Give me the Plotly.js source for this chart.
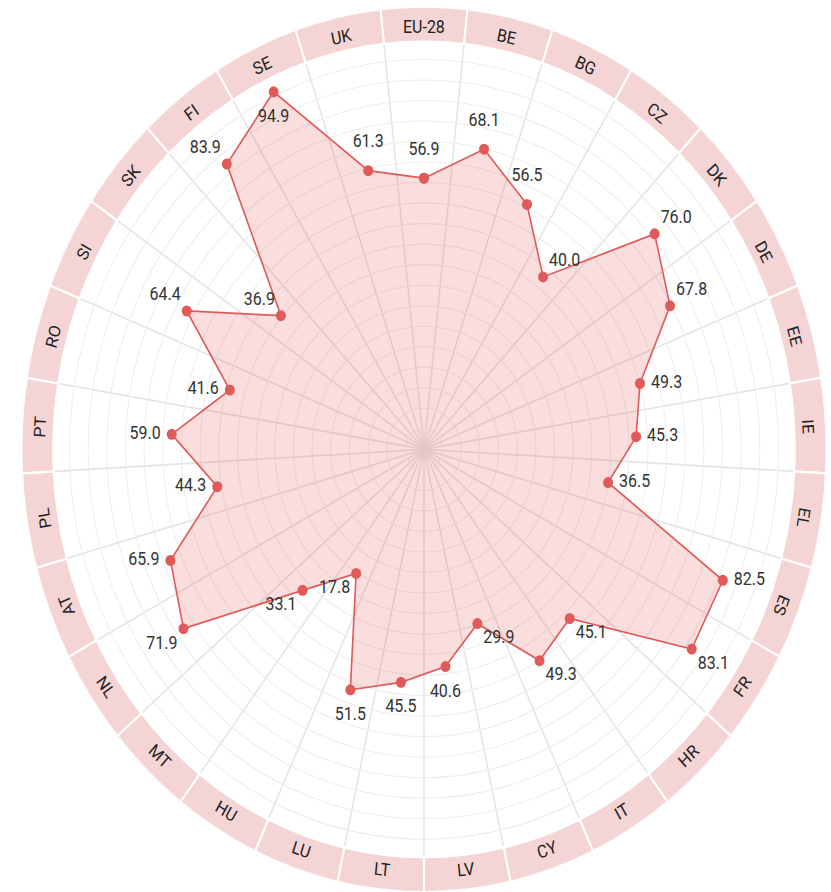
<!DOCTYPE html>
<html>
<head>
<meta charset="utf-8">
<script src="https://cdn.plot.ly/plotly-3.0.1.min.js"></script>
<style>
  html, body { margin: 0; padding: 0; background: #ffffff; }
  #wrap { position: relative; width: 831px; height: 892px; overflow: visible; }
  #chart { position: absolute; left: 0; top: 0; width: 831px; height: 811px; transform: scaleY(1.1); transform-origin: 0 0; }
</style>
</head>
<body>
<div id="wrap"><div id="chart"></div></div>
<script>
// ---- data ----
const categories = ['EU-28','BE','BG','CZ','DK','DE','EE','IE','EL','ES','FR','HR','IT','CY','LV','LT','LU','HU','MT','NL','AT','PL','PT','RO','SI','SK','FI','SE','UK'];
const values = [56.9,68.1,56.5,40.0,76.0,67.8,49.3,45.3,36.5,82.5,83.1,45.1,49.3,29.9,40.6,45.5,51.5,17.8,33.1,71.9,65.9,44.3,59.0,41.6,64.4,36.9,83.9,94.9,61.3];

// ---- label placement (style, not data) ----
const labelPositions = ['top center','top center','top center','top right','top right','top right',
  'middle right','middle right','middle right','middle right','bottom right','bottom right','bottom right',
  'bottom right','bottom center','bottom center','bottom center','bottom left','bottom left','bottom left',
  'middle left','middle left','middle left','middle left','top left','top left','top left',
  'bottom center','top center'];

const W = 831, H = 811;
const N = categories.length;
const step = 360 / N;
const rMin = -27, rMax = 110, bandBase = 99.2, labelR = 103.8;
const domX = [0.02587, 0.99458], domY = [0, 0.9926];

const thetas = categories.map((c, i) => i * step);
const boundaries = categories.map((c, i) => (i + 0.5) * step);

const lineColor = '#e05a5a';
const fontFam = 'Roboto, sans-serif';

const closedR = values.concat([values[0]]);
const closedT = thetas.concat([thetas[0]]);

const band = {
  type: 'barpolar',
  r: categories.map(() => rMax - bandBase),
  base: categories.map(() => bandBase),
  theta: thetas,
  width: categories.map(() => step),
  marker: { color: '#f5d4d5', line: { color: '#ffffff', width: 2 } },
  hoverinfo: 'skip',
  showlegend: false
};

const series = {
  type: 'scatterpolar',
  r: closedR,
  theta: closedT,
  mode: 'lines+markers',
  fill: 'toself',
  fillcolor: 'rgba(230,90,90,0.2)',
  line: { color: lineColor, width: 1.6 },
  marker: { color: lineColor, size: 10 },
  showlegend: false
};

// value labels: one invisible-marker trace per placement family (sets the text gap)
function labelGroup(test, gap) {
  const idx = labelPositions.map((p, i) => i).filter(i => test(labelPositions[i]));
  return {
    type: 'scatterpolar',
    r: idx.map(i => values[i]),
    theta: idx.map(i => thetas[i]),
    mode: 'markers+text',
    marker: { color: 'rgba(0,0,0,0)', size: gap },
    text: idx.map(i => values[i].toFixed(1)),
    textposition: idx.map(i => labelPositions[i]),
    textfont: { family: fontFam, size: 16, color: '#333333' },
    cliponaxis: false,
    hoverinfo: 'skip',
    showlegend: false
  };
}
const labelTraces = [
  labelGroup(p => p === 'top center', 26),
  labelGroup(p => p === 'bottom center', 23),
  labelGroup(p => p.startsWith('middle'), 16),
  labelGroup(p => !p.endsWith('center') && !p.startsWith('middle'), 8)
];

// category labels as rotated annotations in the band
const pxW = (domX[1] - domX[0]) * W, pxH = (domY[1] - domY[0]) * H;
const R = Math.min(pxW, pxH) / 2;
const cx = (domX[0] + domX[1]) / 2 * W;
const cyB = (domY[0] + domY[1]) / 2 * H;
const rpx = (labelR - rMin) / (rMax - rMin) * R;

const annotations = categories.map((c, i) => {
  const t = thetas[i];
  const rad = t * Math.PI / 180;
  const x = (cx + rpx * Math.sin(rad)) / W;
  const y = (cyB + rpx * Math.cos(rad)) / H;
  let ang = t;
  if (t > 117 && t < 243) ang = t - 180;
  else if (t >= 243) ang = t - 360;
  return {
    text: c, x: x, y: y, xref: 'paper', yref: 'paper',
    xanchor: 'center', yanchor: 'middle', showarrow: false,
    textangle: ang,
    font: { family: fontFam, size: 16, color: '#222222' }
  };
});

const layout = {
  width: W, height: H,
  margin: { l: 0, r: 0, t: 0, b: 0 },
  paper_bgcolor: '#ffffff',
  showlegend: false,
  polar: {
    domain: { x: domX, y: domY },
    bgcolor: '#ffffff',
    radialaxis: {
      range: [rMin, rMax],
      tickmode: 'linear', tick0: rMin, dtick: (100 - rMin) / 20,
      showticklabels: false, ticks: '', showline: false,
      gridcolor: '#ededed', gridwidth: 1
    },
    angularaxis: {
      type: 'linear', thetaunit: 'degrees',
      direction: 'clockwise', rotation: 90,
      tickmode: 'array', tickvals: boundaries,
      showticklabels: false, ticks: '', showline: false,
      gridcolor: '#e4e4e4', gridwidth: 1.5
    }
  },
  annotations: annotations
};

Plotly.newPlot('chart', [band, series].concat(labelTraces), layout, { displayModeBar: false, staticPlot: true });
</script>
</body>
</html>
